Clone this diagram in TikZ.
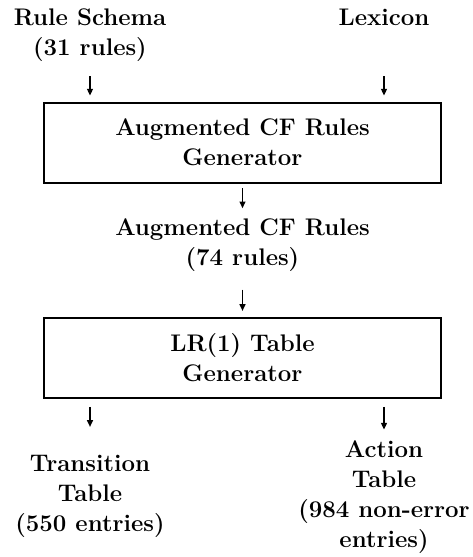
\documentclass[tikz,border=0pt]{standalone}
\usepackage{tikz}
\usetikzlibrary{arrows.meta, positioning}

\begin{document}
\begin{tikzpicture}[
        x=0.75pt, y=-0.75pt,
        node distance=26pt and 20pt,
        gen/.style={rectangle, draw, line width=1.5pt, align=center, minimum width=298pt, minimum height=60pt, inner sep=0pt, font=\fontsize{18}{22.5}\selectfont\bfseries},
        lbl/.style={align=center, inner sep=0pt, font=\fontsize{18}{22.5}\selectfont\bfseries},
        arrow/.style={-{Triangle[length=5pt, width=4.5pt]}, line width=0.85pt}
    ]
        \useasboundingbox (0,0) rectangle (473,557);
        \node[gen] (cfgen) at (242.5,142.5) {Augmented CF Rules\\Generator};
        \node[lbl, anchor=north] (schema) at (90,8.5) {Rule Schema\\(31 rules)};
        \node[lbl, anchor=north] (lexicon) at (384,8.5) {Lexicon};
        \node[lbl, below=26pt of cfgen] (cfrules) {Augmented CF Rules\\(74 rules)};
        \node[gen, below=34pt of cfrules] (lrgen) {LR(1) Table\\Generator};
        \node[lbl, anchor=north] (trans) at ([yshift=-42pt]lrgen.south -| schema) {Transition\\Table\\(550 entries)};
        \node[lbl, anchor=north] (action) at ([yshift=-31pt]lrgen.south -| lexicon) {Action\\Table\\(984 non-error\\entries)};

        \draw[arrow, shorten <=11pt, shorten >=4.5pt] (schema) -- (schema |- cfgen.north);
        \draw[arrow, shorten <=38pt, shorten >=4.5pt] (lexicon) -- (lexicon |- cfgen.north);
        \draw[arrow, shorten <=3.5pt, shorten >=7.5pt] (cfgen) -- (cfrules);
        \draw[arrow, shorten <=13.5pt, shorten >=4.5pt] (cfrules) -- (lrgen);
        \draw[arrow, shorten <=6pt, shorten >=21pt] (lrgen.south -| trans) -- (trans);
        \draw[arrow, shorten <=6pt, shorten >=8pt] (lrgen.south -| action) -- (action);
    \end{tikzpicture}
\end{document}
